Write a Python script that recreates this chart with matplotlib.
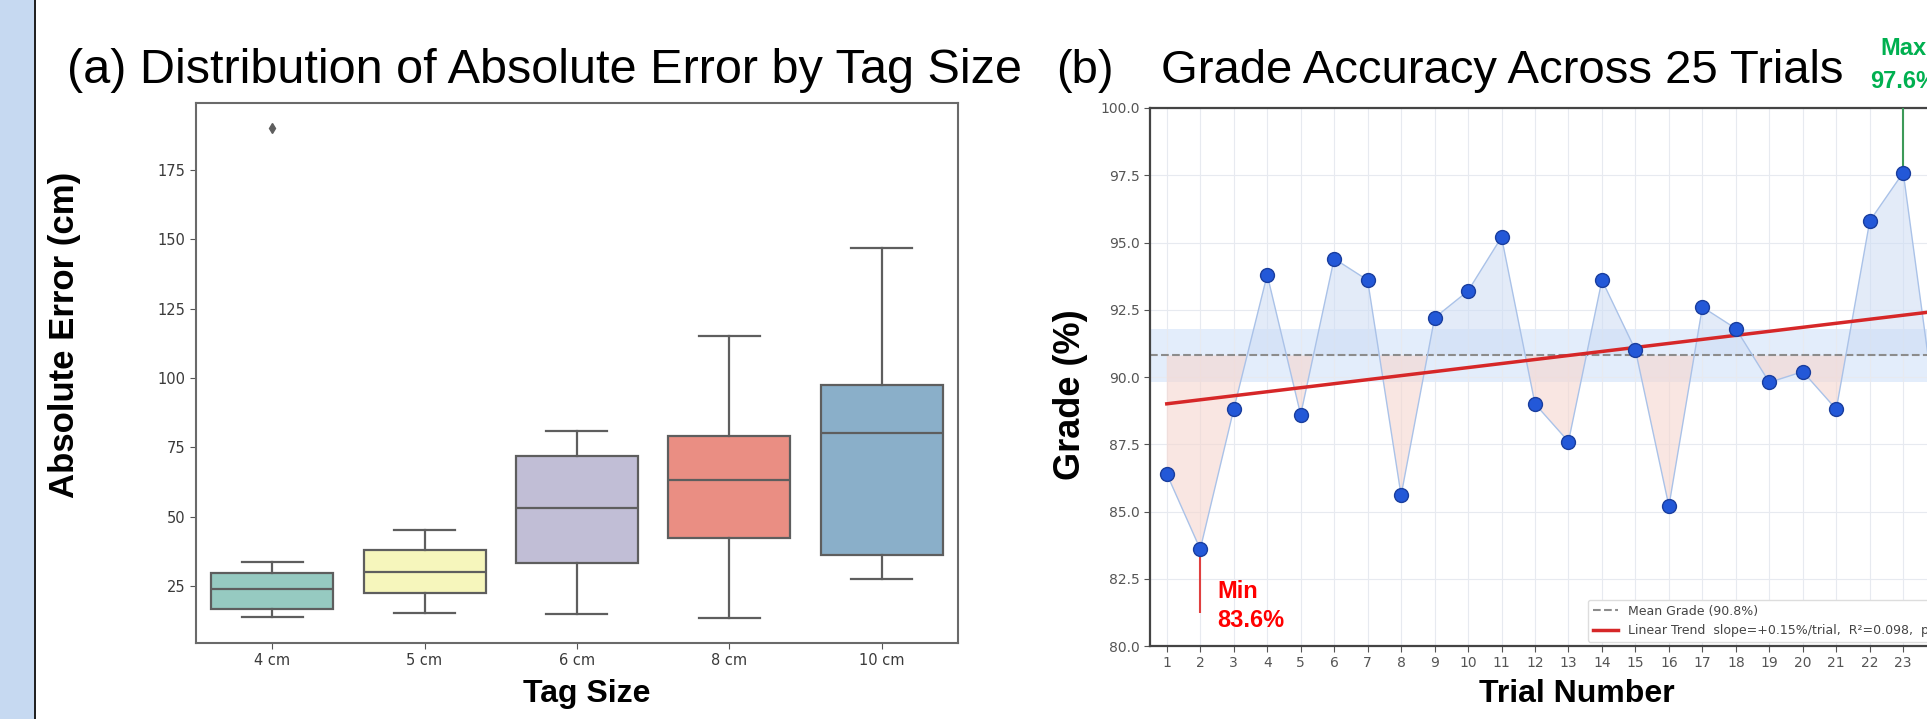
import numpy as np
import matplotlib
matplotlib.use('Agg')
import matplotlib.pyplot as plt
import seaborn as sns
from matplotlib import font_manager
from matplotlib.patches import Rectangle

# --- fonts ---
names = {f.name for f in font_manager.fontManager.ttflist}
narrow = 'Liberation Sans Narrow' if 'Liberation Sans Narrow' in names else 'Liberation Sans'
arial = 'Liberation Sans'
lab_size = 27 if narrow != arial else 23   # condensed look of the x labels

# --- panel (a) data: box stats ---
tag_sizes = ['4 cm', '5 cm', '6 cm', '8 cm', '10 cm']
err_whislo = [13.8, 15.3, 14.8, 13.3, 27.6]
err_q1 = [16.6, 22.5, 33.4, 42.2, 36.2]
err_med = [23.8, 30.1, 53.1, 63.3, 80.3]
err_q3 = [29.6, 37.9, 71.8, 79.2, 97.4]
err_whishi = [33.6, 45.2, 80.8, 115.0, 146.9]
err_fliers = [[190.2], [], [], [], []]

# --- panel (b) data ---
trials = np.arange(1, 26)
grades = np.array([86.4, 83.6, 88.8, 93.8, 88.6, 94.4, 93.6, 85.6, 92.2, 93.2,
                   95.2, 89.0, 87.6, 93.6, 91.0, 85.2, 92.6, 91.8, 89.8, 90.2,
                   88.8, 95.8, 97.6, 88.4, 93.2])
band_lo, band_hi = 89.8, 91.8
mean_label = 'Mean Grade (90.8%)'
trend_label = 'Linear Trend  slope=+0.15%/trial,  R\u00b2=0.098,  p=0.128'

fig = plt.figure(figsize=(19.27, 7.19), dpi=100)

# left blue strip + dark rule
fig.patches.append(Rectangle((0, 0), 34 / 1927, 1, transform=fig.transFigure,
                             facecolor='#c6d9f1', edgecolor='none', zorder=0))
fig.patches.append(Rectangle((34 / 1927, 0), 2 / 1927, 1, transform=fig.transFigure,
                             facecolor='#222222', edgecolor='none', zorder=1))

# ---------------- (a) boxplot ----------------
ax1 = fig.add_axes([0.1017, 0.1057, 0.3954, 0.751])
gray = '#5e5e5e'
stats = []
for i, lab in enumerate(tag_sizes):
    stats.append(dict(label=lab, med=err_med[i], q1=err_q1[i], q3=err_q3[i],
                      whislo=err_whislo[i], whishi=err_whishi[i], fliers=err_fliers[i]))
bp = ax1.bxp(stats, positions=range(len(tag_sizes)), widths=0.8, patch_artist=True,
             boxprops=dict(edgecolor=gray, linewidth=1.6),
             medianprops=dict(color=gray, linewidth=1.6),
             whiskerprops=dict(color=gray, linewidth=1.6),
             capprops=dict(color=gray, linewidth=1.6),
             flierprops=dict(marker='d', markerfacecolor=gray, markeredgecolor=gray,
                             markersize=5))
pal = [sns.desaturate(c, 0.75) for c in sns.color_palette('Set3', 5)]
for patch, c in zip(bp['boxes'], pal):
    patch.set_facecolor(c)

ax1.set_xlim(-0.5, 4.5)
ax1.set_ylim(4.4, 199.2)
ax1.set_yticks([25, 50, 75, 100, 125, 150, 175])
ax1.tick_params(labelsize=10.5, labelcolor='#3a3a3a', color='#555555', length=4)
for s in ax1.spines.values():
    s.set_color('#6a6a6a')
    s.set_linewidth(1.5)

# ---------------- (b) grade line ----------------
ax2 = fig.add_axes([0.5968, 0.1015, 0.4343, 0.7483])
mean_g = grades.mean()
slope, icpt = np.polyfit(trials, grades, 1)
fit = slope * trials + icpt

ax2.axhspan(band_lo, band_hi, color='#dde9fb', alpha=0.8, zorder=0, lw=0)
ax2.fill_between(trials, grades, mean_g, where=grades >= mean_g, interpolate=True,
                 color='#cddcf4', alpha=0.55, lw=0, zorder=1)
ax2.fill_between(trials, grades, mean_g, where=grades < mean_g, interpolate=True,
                 color='#f6d6cf', alpha=0.6, lw=0, zorder=1)
ax2.plot(trials, grades, color='#aac2e8', lw=1.0, zorder=3)
ax2.plot(trials, grades, 'o', ms=10, mfc='#2358d8', mec='#1a3e9e', mew=1.0, zorder=5)
ax2.axhline(mean_g, ls='--', color='#8c8c8c', lw=1.5, zorder=2, label=mean_label)
ax2.plot(trials, fit, color='#d62728', lw=2.5, zorder=4, label=trend_label)

# min / max callouts
i_min = int(np.argmin(grades))
i_max = int(np.argmax(grades))
ax2.vlines(trials[i_min], 81.23, grades[i_min], color='#e04040', lw=1.5, zorder=4)
ax2.text(trials[i_min] + 0.5, 81.5, f'Min\n{grades[i_min]:.1f}%', color='#ff0000',
         fontsize=17, fontweight='bold', family=arial, ha='left', va='center',
         linespacing=1.35)
ax2.vlines(trials[i_max], grades[i_max], 100, color='#3c9a58', lw=1.5, zorder=4)
ax2.text(trials[i_max], 101.6, f'Max\n{grades[i_max]:.1f}%', color='#00b050',
         fontsize=17, fontweight='bold', family=arial, ha='center', va='center',
         linespacing=1.55, clip_on=False)

ax2.set_xlim(0.5, 25.5)
ax2.set_ylim(80, 100)
ax2.set_xticks(trials)
ax2.set_yticks(np.arange(80, 100.1, 2.5))
ax2.yaxis.set_major_formatter(matplotlib.ticker.FormatStrFormatter('%.1f'))
ax2.grid(True, color='#e7eaf0', lw=0.8)
ax2.set_axisbelow(True)
ax2.tick_params(labelsize=10, labelcolor='#555555', color='#555555', length=4)
for s in ax2.spines.values():
    s.set_color('#444444')
    s.set_linewidth(1.6)
ax2.legend(loc='lower left', bbox_to_anchor=(0.523, 0.0075), borderaxespad=0,
           fontsize=9, frameon=True, edgecolor='#dddddd', framealpha=1,
           labelcolor='#444444')

# ---------------- titles and axis labels ----------------
fig.text(67 / 1927, 1 - 83 / 719, '(a) Distribution of Absolute Error by Tag Size',
         fontsize=35, family=arial, ha='left', va='baseline')
fig.text(1056 / 1927, 1 - 83 / 719, '(b)', fontsize=34, family=arial,
         ha='left', va='baseline')
fig.text(1161 / 1927, 1 - 83 / 719, 'Grade Accuracy Across 25 Trials', fontsize=34,
         family=arial, ha='left', va='baseline')

fig.text(65 / 1927, 1 - 335 / 719, 'Absolute Error (cm)', fontsize=25,
         fontweight='bold', family=arial, rotation=90, ha='center', va='center')
fig.text(1071 / 1927, 1 - 395 / 719, 'Grade (%)', fontsize=26, fontweight='bold',
         family=arial, rotation=90, ha='center', va='center')
fig.text(587 / 1927, 1 - 694 / 719, 'Tag Size', fontsize=lab_size, fontweight='bold',
         family=narrow, ha='center', va='center')
fig.text(1577 / 1927, 1 - 694 / 719, 'Trial Number', fontsize=lab_size,
         fontweight='bold', family=narrow, ha='center', va='center')

fig.savefig('out.png', dpi=100)
